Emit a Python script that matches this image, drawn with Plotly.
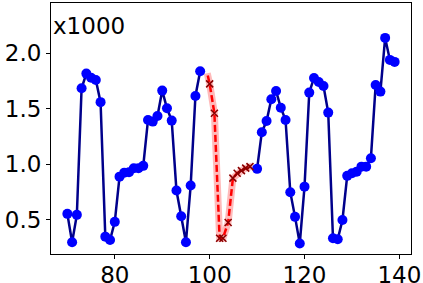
import plotly.graph_objects as go

# Observed series (x1000)
obs_x = list(range(70, 140))
obs_y = [0.555, 0.30, 0.546, 1.685, 1.817, 1.78, 1.76, 1.56, 0.35, 0.32,
         0.483, 0.89, 0.926, 0.93, 0.966, 0.966, 0.987, 1.40, 1.385, 1.436,
         1.664, 1.505, 1.394, 0.765, 0.534, 0.30, 0.81, 1.616, 1.838,
         None, None, None, None, None, None, None, None, None, None, None,
         0.96, 1.29, 1.39, 1.586, 1.66, 1.51, 1.40, 0.75, 0.528, 0.288,
         0.80, 1.646, 1.778, 1.742, 1.706, 1.466, 0.336, 0.327, 0.50, 0.897,
         0.921, 0.935, 0.98, 0.98, 1.056, 1.715, 1.655, 2.138, 1.94, 1.922]

# Predicted series (x1000)
pred_line_x = [99.6, 100, 101, 102.1, 102.8, 103.9, 104.9, 105.8, 106.7, 107.6, 108.5]
pred_line_y = [1.80, 1.724, 1.46, 0.336, 0.336, 0.477, 0.876, 0.92, 0.944, 0.966, 0.98]
pred_mark_x = pred_line_x[1:]
pred_mark_y = pred_line_y[1:]

band_x = [99.5, 100, 101, 102.1, 102.8, 103.9, 104.9, 105.8, 106.7, 107.6, 108.5, 109.0]
band_y = [1.82, 1.724, 1.46, 0.336, 0.336, 0.477, 0.876, 0.92, 0.944, 0.966, 0.98, 0.985]

x_ticks = [80, 100, 120, 140]
y_ticks = [0.5, 1.0, 1.5, 2.0]

FONT = "DejaVu Sans"

fig = go.Figure()

fig.add_trace(go.Scatter(
    x=band_x, y=band_y, mode="lines",
    line=dict(color="rgba(255,40,40,0.32)", width=7, shape="linear"),
    hoverinfo="skip", showlegend=False))

fig.add_trace(go.Scatter(
    x=obs_x, y=obs_y, mode="lines+markers", connectgaps=False,
    line=dict(color="#00008b", width=2.5),
    marker=dict(color="#0000ff", size=10, line=dict(width=0)),
    showlegend=False))

fig.add_trace(go.Scatter(
    x=pred_line_x, y=pred_line_y, mode="lines",
    line=dict(color="#ff0000", width=2.5, dash="7px,3px"),
    showlegend=False))

fig.add_trace(go.Scatter(
    x=pred_mark_x, y=pred_mark_y, mode="markers",
    marker=dict(symbol="x-thin", size=7, color="#8b0000",
                line=dict(color="#8b0000", width=1.6)),
    showlegend=False))

fig.add_annotation(
    text="x1000", xref="paper", yref="paper", x=0.0, y=0.91,
    xanchor="left", yanchor="middle", showarrow=False,
    font=dict(family=FONT, size=23, color="black"))

axis_common = dict(
    showgrid=False, zeroline=False, showline=True, mirror=True,
    linecolor="black", linewidth=1, ticks="outside", ticklen=4,
    tickcolor="black", tickwidth=1, automargin=False,
    tickfont=dict(family=FONT, size=23, color="black"))

fig.update_xaxes(range=[66.55, 142.45], tickvals=x_ticks,
                 ticktext=[str(v) for v in x_ticks],
                 ticklabelstandoff=-4, **axis_common)
fig.update_yaxes(range=[0.194, 2.452], tickvals=y_ticks,
                 ticktext=[f"{v:.1f}" for v in y_ticks], **axis_common)

fig.update_layout(
    width=423, height=283,
    margin=dict(l=51, r=12, t=3, b=29),
    paper_bgcolor="white", plot_bgcolor="white",
    font=dict(family=FONT))

fig.write_html(
    "out.html",
    config={"displayModeBar": False},
    post_script="document.body.style.margin='0px';document.body.style.overflow='hidden';")
